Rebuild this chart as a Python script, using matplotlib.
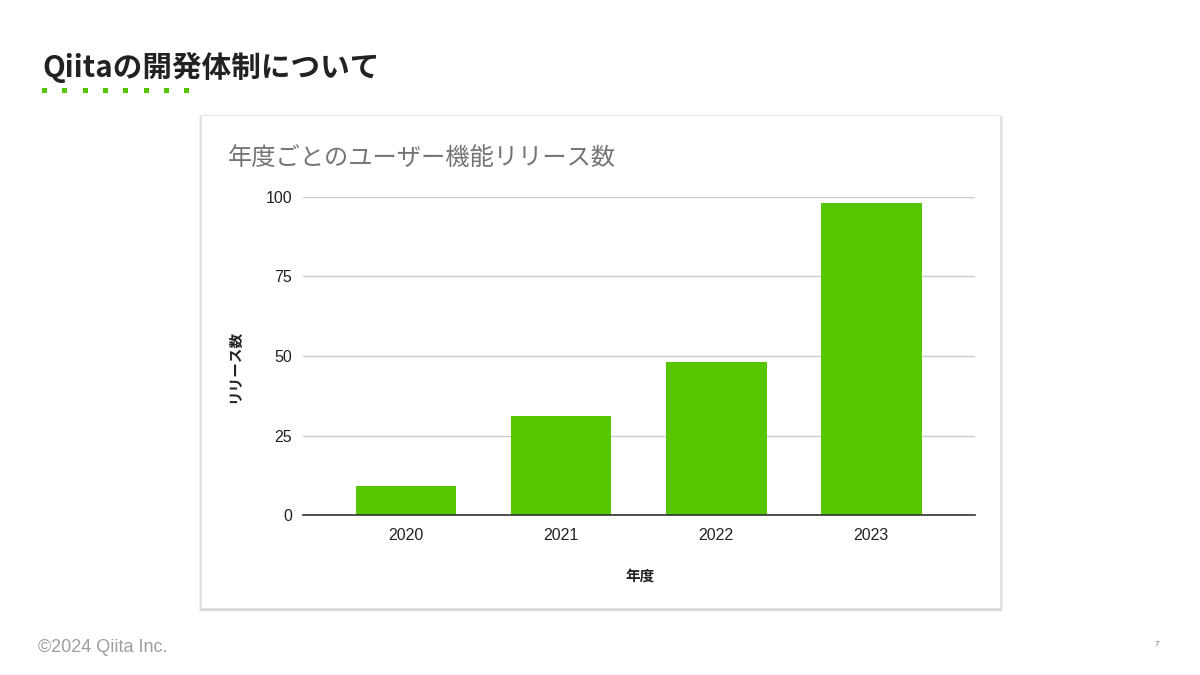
import matplotlib
matplotlib.use("Agg")
import matplotlib.pyplot as plt
from matplotlib.patches import Rectangle

plt.rcParams['font.family'] = ['Liberation Sans', 'Noto Sans CJK JP', 'DejaVu Sans']

years = ["2020", "2021", "2022", "2023"]
releases = [9, 31, 48, 98]
yticks = [0, 25, 50, 75, 100]

page_title = "Qiitaの開発体制について"
chart_title = "年度ごとのユーザー機能リリース数"
xlabel = "年度"
ylabel = "リリース数"
footer = "©2024 Qiita Inc."
page_no = "7"

W, H = 1200, 675
fig = plt.figure(figsize=(12, 6.75), dpi=100)
fig.patch.set_facecolor("white")

def fx(x): return x / W
def fy(y): return 1 - y / H

# Header
fig.text(fx(42), fy(67), page_title, fontsize=21.3, fontweight='bold', color='#222222',
         family=['Noto Sans CJK JP'], va='center', ha='left')
for i in range(8):
    fig.patches.append(Rectangle((fx(42 + i * 20.3), fy(93)), fx(5), 5 / H,
                                 transform=fig.transFigure, facecolor='#55c500', edgecolor='none', zorder=-5))

# Card with shadow
for off, alpha in [(3, 0.05), (2, 0.07), (1, 0.09)]:
    fig.patches.append(Rectangle((fx(201 - off + 1), fy(609 + off)), fx(800 + 2 * off - 2), (493 + off) / H,
                                 transform=fig.transFigure, facecolor='black', alpha=alpha, edgecolor='none', zorder=-5))
fig.patches.append(Rectangle((fx(201), fy(608)), fx(799), 493 / H,
                             transform=fig.transFigure, facecolor='white', edgecolor='#e6e6e6', lw=0.8, zorder=-4))

fig.text(fx(228), fy(158), chart_title, fontsize=17.5, color='#757575',
         family=['Noto Sans CJK JP'], va='center', ha='left')

ax = fig.add_axes([fx(303), fy(515), fx(672), (515 - 197) / H])
ax.set_zorder(2)
ax.set_facecolor('none')
x = list(range(len(years)))
ax.bar(x, releases, width=0.65, color='#56c600', zorder=3)
ax.set_xlim(-0.665, 3.67)
ax.set_ylim(0, 100)
ax.set_yticks(yticks)
ax.set_xticks(x)
ax.set_xticklabels(years)
ax.grid(axis='y', color='#cccccc', lw=1, zorder=0)
for s in ['top', 'right', 'left']:
    ax.spines[s].set_visible(False)
ax.spines['bottom'].set_color('#333333')
ax.spines['bottom'].set_linewidth(1.2)
ax.spines['bottom'].set_zorder(4)
ax.tick_params(axis='both', length=0, labelsize=11.5, colors='#222222')
ax.tick_params(axis='y', pad=8)
ax.tick_params(axis='x', pad=9)

fig.text(fx(640), fy(576), xlabel, fontsize=10.5, fontweight='bold', color='#222222',
         family=['Noto Sans CJK JP'], ha='center', va='center')
fig.text(fx(234), fy(366), ylabel, fontsize=10.5, fontweight='bold', color='#222222',
         family=['Noto Sans CJK JP'], ha='center', va='center', rotation=90)

fig.text(fx(38), fy(648), footer, fontsize=13, color='#9e9e9e', ha='left', va='center')
fig.text(fx(1157), fy(645), page_no, fontsize=6, color='#757575', ha='center', va='center')

fig.savefig("out.png", dpi=100, facecolor='white')
